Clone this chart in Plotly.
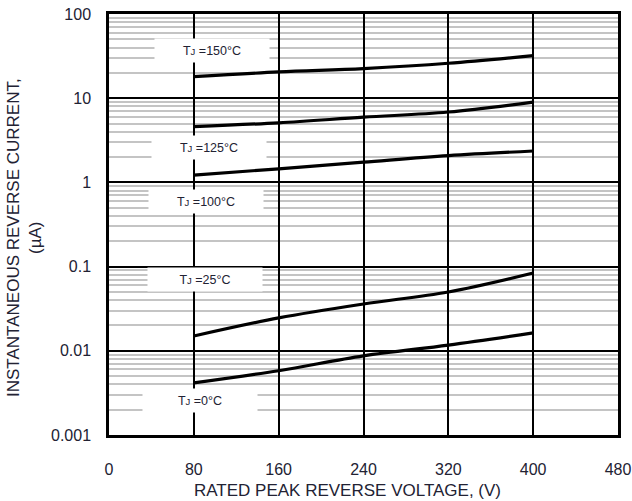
import plotly.graph_objects as go

voltage = [80, 160, 240, 320, 400]
curve_a = [18, 20.5, 22.5, 26, 32]
curve_b = [4.6, 5.1, 5.95, 6.85, 9.0]
curve_c = [1.22, 1.45, 1.74, 2.08, 2.36]
curve_d = [0.015, 0.0246, 0.036, 0.05, 0.084]
curve_e = [0.00415, 0.0058, 0.0087, 0.0117, 0.0163]
curves = [curve_a, curve_b, curve_c, curve_d, curve_e]

temps = ["150", "125", "100", "25", "0"]
label_x = [97, 94.6, 91.4, 90.5, 85.6]
label_logy = [1.572, 0.409, -0.221, -1.159, -2.596]

x_ticks = [0, 80, 160, 240, 320, 400, 480]
y_ticks = [0.001, 0.01, 0.1, 1, 10, 100]
y_ticktext = ["0.001", "0.01", "0.1", "1", "10", "100"]

W, H = 632, 501
pl, pr, pt, pb = 109, 14, 14, 66
pw, ph = W - pl - pr, H - pt - pb

def px_to_paper(x, y):
    return (x - pl) / pw, (H - pb - y) / ph

fig = go.Figure()
for c in curves:
    fig.add_trace(go.Scatter(x=voltage, y=c, mode="lines", line=dict(color="black", width=3.2, shape="spline"),
                             showlegend=False, hoverinfo="skip"))

font = dict(family="Liberation Sans, Arial, sans-serif", color="#222233")
for t, x, y in zip(temps, label_x, label_logy):
    fig.add_annotation(x=x, y=y, xref="x", yref="y",
                       text="T<span style='font-size:9.5px'>J</span> =" + t + "°C",
                       showarrow=False, bgcolor="white",
                       width=112, height=21, font=dict(size=12.5, **font))

tx, ty = px_to_paper(347, 490)
fig.add_annotation(x=tx, y=ty, xref="paper", yref="paper", text="RATED PEAK REVERSE VOLTAGE, (V)",
                   showarrow=False, xanchor="center", yanchor="middle", font=dict(size=17, **font))
yx, yy = px_to_paper(24, 238)
fig.add_annotation(x=yx, y=yy, xref="paper", yref="paper",
                   text="INSTANTANEOUS REVERSE CURRENT,<br>(µA)", textangle=-90,
                   showarrow=False, xanchor="center", yanchor="middle", font=dict(size=17, **font))

fig.update_xaxes(range=[0, 480], tickvals=x_ticks, showgrid=True, gridcolor="black", gridwidth=2,
                 showline=True, linecolor="black", linewidth=2.5, mirror=True, zeroline=False,
                 ticks="", ticklabelstandoff=18, tickfont=dict(size=16, **font), automargin=False)
fig.update_yaxes(type="log", range=[-3, 2], tickvals=y_ticks, ticktext=y_ticktext, showgrid=True,
                 gridcolor="black", gridwidth=2, showline=True, linecolor="black", linewidth=2.5,
                 mirror=True, zeroline=False, ticks="", ticklabelstandoff=12, tickfont=dict(size=16, **font),
                 minor=dict(dtick="D1", showgrid=True, gridcolor="#c4c4c4", gridwidth=2), automargin=False)

fig.update_layout(width=W, height=H, margin=dict(l=pl, r=pr, t=pt, b=pb),
                  plot_bgcolor="white", paper_bgcolor="white")
fig.write_html("out.html", config={"displayModeBar": False},
               post_script="document.body.style.margin='0';document.body.style.overflow='hidden';")
